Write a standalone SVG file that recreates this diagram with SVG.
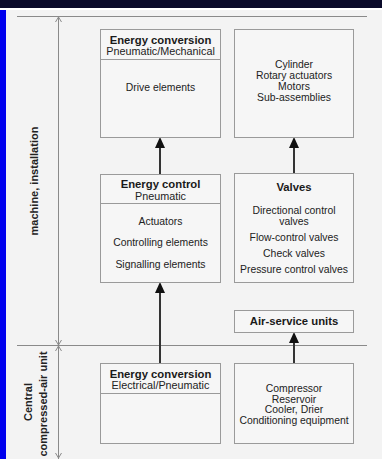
<svg xmlns="http://www.w3.org/2000/svg" width="382" height="459" viewBox="0 0 382 459">
<style>
.box{fill:#f6f6f6;stroke:#9a9a9a;stroke-width:1}
.div{stroke:#9a9a9a;stroke-width:1}
.t{font-family:"Liberation Sans",Arial,sans-serif;font-size:10.4px;fill:#222;text-anchor:middle}
.b{font-family:"Liberation Sans",Arial,sans-serif;font-size:11.3px;font-weight:bold;fill:#1a1a1a;text-anchor:middle}
.s{font-family:"Liberation Sans",Arial,sans-serif;font-size:10.8px;fill:#222;text-anchor:middle}
.side{font-family:"Liberation Sans",Arial,sans-serif;font-size:11px;font-weight:bold;fill:#222;text-anchor:middle}
.guide{stroke:#8a8a8a;stroke-width:1;fill:none}
.conn{stroke:#333;stroke-width:2;fill:none}
</style>
<defs>
<marker id="ah" viewBox="0 0 11 10" refX="0" refY="5" markerWidth="11" markerHeight="10" markerUnits="userSpaceOnUse" orient="auto">
<path d="M0,0 L11,5 L0,10 Z" fill="#111"/>
</marker>
</defs>
<rect x="0" y="0" width="382" height="459" fill="#f3f3f3"/>
<rect x="0" y="0" width="382" height="8" fill="#0a0a2a"/>
<rect x="0" y="8" width="382" height="2" fill="#ffffff"/>
<rect x="0" y="10" width="6" height="449" fill="#0000ee"/>

<g id="guides">
<line class="guide" x1="17" y1="16.5" x2="367" y2="16.5"/>
<line class="guide" x1="17" y1="345.5" x2="367" y2="345.5"/>
<line class="guide" x1="58.5" y1="17" x2="58.5" y2="459"/>
<path class="guide" d="M55.5,22 L58.5,17 L61.5,22"/>
<path class="guide" d="M55.5,340 L58.5,345 L61.5,340"/>
<path class="guide" d="M55.5,351 L58.5,346 L61.5,351"/>
<path class="guide" d="M55.5,453 L58.5,458 L61.5,453"/>
</g>

<g id="side-labels">
<text class="side" transform="translate(37.5,181) rotate(-90)">machine, installation</text>
<text class="side" transform="translate(32,402) rotate(-90)">Central</text>
<text class="side" transform="translate(46.5,404) rotate(-90)">compressed-air unit</text>
</g>

<g id="connectors">
<line class="conn" x1="160" y1="174" x2="160" y2="148" marker-end="url(#ah)"/>
<line class="conn" x1="294" y1="173" x2="294" y2="148" marker-end="url(#ah)"/>
<line class="conn" x1="160" y1="363" x2="160" y2="293" marker-end="url(#ah)"/>
<line class="conn" x1="294" y1="363" x2="294" y2="343" marker-end="url(#ah)"/>
</g>

<g id="energy-conversion-pm">
<rect class="box" x="100.5" y="29.5" width="120" height="108"/>
<line class="div" x1="100.5" y1="59.5" x2="220.5" y2="59.5"/>
<text class="b" x="160.5" y="43.5">Energy conversion</text>
<text class="s" x="160.5" y="55">Pneumatic/Mechanical</text>
<text class="t" x="160.5" y="91">Drive elements</text>
</g>

<g id="drive-examples">
<rect class="box" x="234.5" y="29.5" width="119" height="108"/>
<text class="t" x="294" y="68">Cylinder</text>
<text class="t" x="294" y="79">Rotary actuators</text>
<text class="t" x="294" y="90">Motors</text>
<text class="t" x="294" y="101">Sub-assemblies</text>
</g>

<g id="energy-control">
<rect class="box" x="100.5" y="174.5" width="120" height="108"/>
<line class="div" x1="100.5" y1="203.5" x2="220.5" y2="203.5"/>
<text class="b" x="160.5" y="188">Energy control</text>
<text class="s" x="160.5" y="199.5">Pneumatic</text>
<text class="t" x="160.5" y="225">Actuators</text>
<text class="t" x="160.5" y="246">Controlling elements</text>
<text class="t" x="160.5" y="268">Signalling elements</text>
</g>

<g id="valves">
<rect class="box" x="234.5" y="173.5" width="119" height="109"/>
<text class="b" x="294" y="191">Valves</text>
<text class="t" x="294" y="214">Directional control</text>
<text class="t" x="294" y="225">valves</text>
<text class="t" x="294" y="241">Flow-control valves</text>
<text class="t" x="294" y="257">Check valves</text>
<text class="t" x="294" y="273">Pressure control valves</text>
</g>

<g id="air-service-units">
<rect class="box" x="234.5" y="310.5" width="119" height="22"/>
<text class="b" x="294" y="325">Air-service units</text>
</g>

<g id="energy-conversion-ep">
<rect class="box" x="100.5" y="363.5" width="120" height="80"/>
<line class="div" x1="100.5" y1="393.5" x2="220.5" y2="393.5"/>
<text class="b" x="160.5" y="377.5">Energy conversion</text>
<text class="s" x="160.5" y="389">Electrical/Pneumatic</text>
</g>

<g id="supply-examples">
<rect class="box" x="234.5" y="363.5" width="119" height="80"/>
<text class="t" x="294" y="392">Compressor</text>
<text class="t" x="294" y="403">Reservoir</text>
<text class="t" x="294" y="413">Cooler, Drier</text>
<text class="t" x="294" y="424">Conditioning equipment</text>
</g>
</svg>
